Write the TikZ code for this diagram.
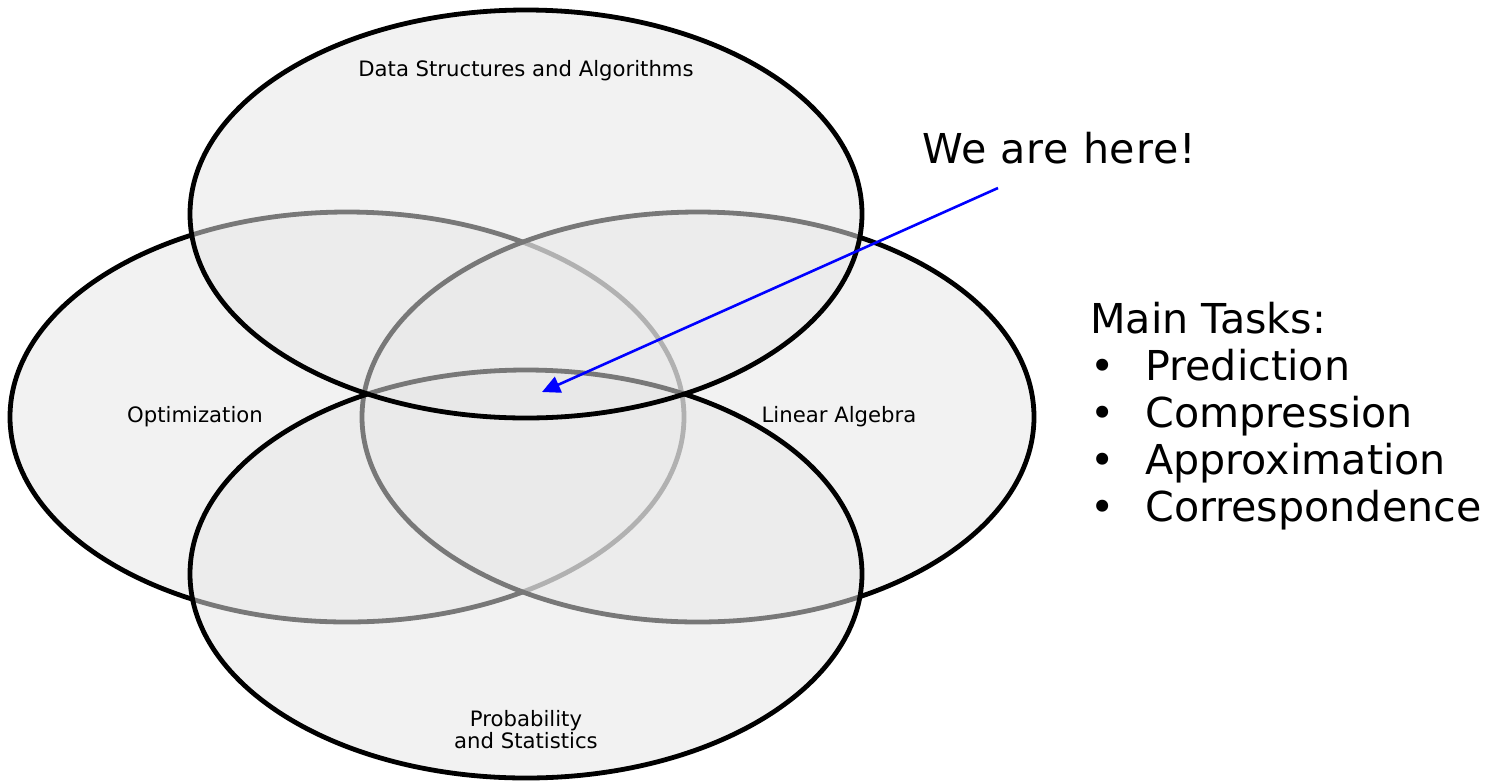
\documentclass[tikz,border=0pt]{standalone}
\usepackage{fontspec}
\setmainfont{DejaVu Sans}
\usetikzlibrary{arrows.meta}
\definecolor{ellfill}{gray}{0.904}
\tikzset{
  vennset/.style={fill=ellfill, fill opacity=0.52, draw=black, draw opacity=1, line width=2.4pt},
  smalllabel/.style={font=\fontsize{10.6pt}{12pt}\selectfont, inner sep=0pt, align=center},
  biglabel/.style={font=\fontsize{20.6pt}{24pt}\selectfont, inner sep=0pt, anchor=base west},
  pointer/.style={draw=blue, line width=1.3pt, -{Triangle[length=9pt,width=8.5pt]}}
}
\begin{document}
\begin{tikzpicture}[x=0.5pt, y=-0.5pt]
\useasboundingbox (0,0) rectangle (1489,783);
% ellipses (order matters for border greying)
\path[vennset] (347,417) ellipse [x radius=168.5pt, y radius=102.5pt];
\path[vennset] (698,417) ellipse [x radius=168pt, y radius=102.5pt];
\path[vennset] (526,574) ellipse [x radius=168pt, y radius=102pt];
\path[vennset] (526,214) ellipse [x radius=168pt, y radius=102pt];
% labels
\node[smalllabel, anchor=base] (dsa) at (526,76) {Data Structures and Algorithms};
\node[smalllabel, anchor=base] (opt) at (195,422) {Optimization};
\node[smalllabel, anchor=base] (la) at (839,422) {Linear Algebra};
\node[smalllabel, anchor=base] (ps1) at (526,726) {Probability};
\node[smalllabel, anchor=base] (ps2) at (526,748) {and Statistics};
% pointer
\node[biglabel] (here) at (922,163) {\addfontfeatures{LetterSpace=2}We are here!};
\coordinate (from) at (998,188);
\coordinate (to) at (542,392);
\draw[pointer] (from) -- (to);
% tasks
\node[biglabel] (tasks) at (1090,333) {Main Tasks:};
\node[biglabel] (b1) at (1090,380) {•};
\node[biglabel] (t1) at (1145,380) {Prediction};
\node[biglabel] (b2) at (1090,427) {•};
\node[biglabel] (t2) at (1145,427) {Compression};
\node[biglabel] (b3) at (1090,474) {•};
\node[biglabel] (t3) at (1145,474) {Approximation};
\node[biglabel] (b4) at (1090,521) {•};
\node[biglabel] (t4) at (1145,521) {Correspondence};
\end{tikzpicture}
\end{document}
